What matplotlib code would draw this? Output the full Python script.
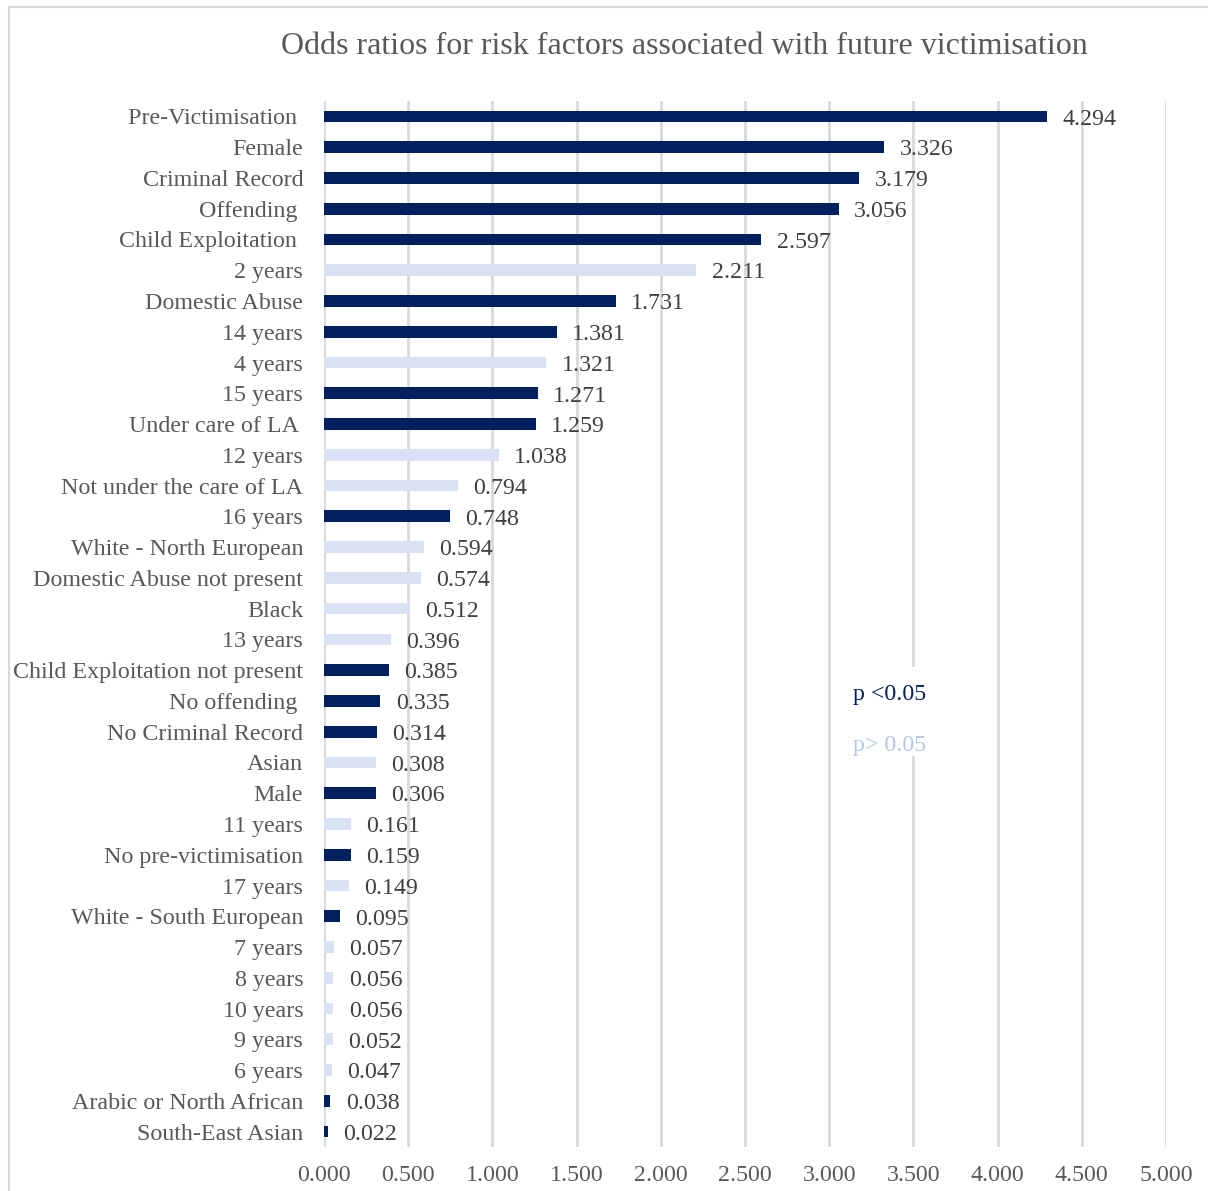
import matplotlib.pyplot as plt
from matplotlib.patches import Rectangle

plt.rcParams['font.family'] = ['Liberation Serif', 'DejaVu Serif']

# Daten (oben nach unten)
kategorien = [
    "Pre-Victimisation ", "Female", "Criminal Record", "Offending ", "Child Exploitation ",
    "2 years", "Domestic Abuse", "14 years", "4 years", "15 years", "Under care of LA ",
    "12 years", "Not under the care of LA", "16 years", "White - North European",
    "Domestic Abuse not present", "Black", "13 years", "Child Exploitation not present",
    "No offending ", "No Criminal Record", "Asian", "Male", "11 years",
    "No pre-victimisation", "17 years", "White - South European", "7 years", "8 years",
    "10 years", "9 years", "6 years", "Arabic or North African", "South-East Asian",
]
werte = [
    4.294, 3.326, 3.179, 3.056, 2.597, 2.211, 1.731, 1.381, 1.321, 1.271, 1.259,
    1.038, 0.794, 0.748, 0.594, 0.574, 0.512, 0.396, 0.385, 0.335, 0.314, 0.308,
    0.306, 0.161, 0.159, 0.149, 0.095, 0.057, 0.056, 0.056, 0.052, 0.047, 0.038, 0.022,
]
signifikant = [
    True, True, True, True, True, False, True, True, False, True, True,
    False, False, True, False, False, False, False, True, True, True, False,
    True, False, True, False, True, False, False, False, False, False, True, True,
]

dunkel = '#002060'
hell = '#D9E1F2'
grau = '#595959'

fig = plt.figure(figsize=(12.08, 11.91), dpi=100)
ax = fig.add_axes([324 / 1208, 1 - 1147 / 1191, (1166 - 324) / 1208, (1147 - 101) / 1191])

pos = list(range(len(kategorien)))
farben = [dunkel if s else hell for s in signifikant]
ax.barh(pos, werte, height=0.38, color=farben, zorder=3)

for p, w in zip(pos, werte):
    ax.annotate(f"{w:.3f}", (w, p), xytext=(11, -2), textcoords='offset points',
                va='center', ha='left', fontsize=17.2, color='#404040', zorder=4)

ax.set_xlim(0, 5)
ax.set_ylim(len(kategorien) - 0.5, -0.5)
ax.set_yticks(pos)
ax.set_yticklabels(kategorien, fontsize=17.3, color=grau)
ax.set_xticks([i * 0.5 for i in range(11)])
ax.set_xticklabels([f"{i * 0.5:.3f}" for i in range(11)], fontsize=17.2, color=grau)
ax.tick_params(axis='y', length=0, pad=15)
ax.tick_params(axis='x', length=0, pad=13)
ax.grid(axis='x', color='#D9D9D9', linewidth=2, zorder=0)
for s in ax.spines.values():
    s.set_visible(False)

# Legende als Textfeld
ax.add_patch(Rectangle((3.05, 17.9), 0.88, 2.9, facecolor='white', edgecolor='none', zorder=2))
ax.text(3.14, 18.8, "p <0.05", fontsize=17.2, color=dunkel, va='center', ha='left', zorder=5)
ax.text(3.14, 20.45, "p> 0.05", fontsize=17.2, color='#B4C7E7', va='center', ha='left', zorder=5)

fig.text(684 / 1208, 1 - 46 / 1191, "Odds ratios for risk factors associated with future victimisation",
         ha='center', va='center', fontsize=23, color=grau)

# Rahmen
fig.add_artist(Rectangle((9 / 1208, -0.05), 1.1, 1 - 7 / 1191 + 0.05, transform=fig.transFigure,
                         fill=False, edgecolor='#D9D9D9', linewidth=1.5))

fig.savefig('out.png', dpi=100)
